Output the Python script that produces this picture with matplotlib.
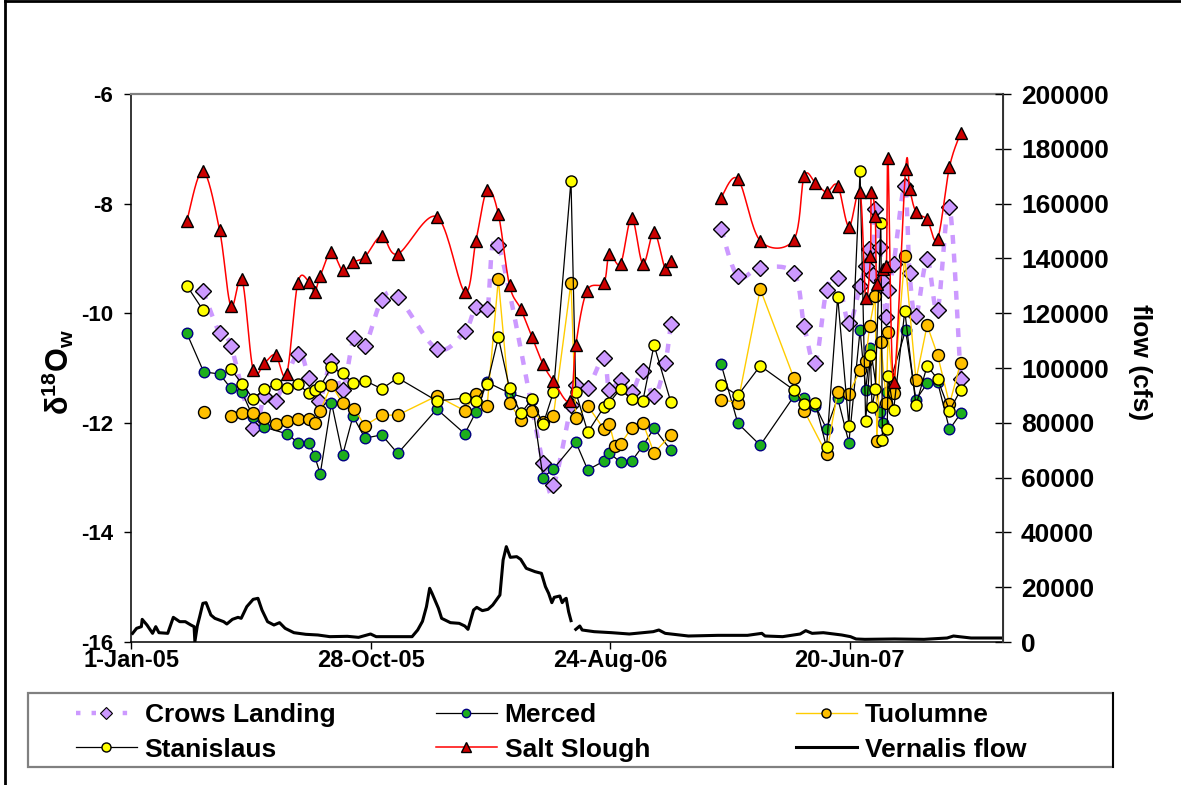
import numpy as np
import matplotlib
matplotlib.use("Agg")
import matplotlib.pyplot as plt
import matplotlib.dates as mdates
from matplotlib.lines import Line2D
from matplotlib.patches import Rectangle

plt.rcParams["font.family"] = ["Liberation Sans", "DejaVu Sans"]
plt.rcParams["font.weight"] = "bold"
plt.rcParams["mathtext.fontset"] = "custom"
plt.rcParams["mathtext.rm"] = "Liberation Sans:bold"
plt.rcParams["mathtext.it"] = "Liberation Sans:bold"
plt.rcParams["mathtext.bf"] = "Liberation Sans:bold"

START = np.datetime64("2005-01-01")
nan = np.nan

# sample dates are given as days after 1 Jan 2005, isotope values in per mil
crows_days = [90, 111, 125, 153, 167, 181, 209, 223, 236, 251, 265, 279, 293, 314, 334, 383, 418, 432,
              446, 460, 516, 529, 551, 557, 572, 592, 599, 613, 627, 641, 655, 669, 676, 700, 739, 760,
              788, 830, 843, 857, 871, 885, 899, 913, 920, 924, 929, 932, 938, 941, 946, 948, 955, 969,
              975, 983, 997, 1010, 1025, 1039]
crows_d18o = [-9.59, -10.37, -10.59, -12.09, -11.51, -11.60, -10.74, -11.19, -11.60, -10.87, -11.40,
              -10.46, -10.59, -9.76, -9.70, -10.65, -10.33, -9.88, -9.93, -8.76, -12.74, -13.14, -11.68,
              -11.31, -11.36, -10.81, -11.40, -11.22, -11.44, -11.05, -11.52, -10.91, -10.20, nan, -8.46,
              -9.33, -9.17, -9.27, -10.23, -10.90, -9.58, -9.36, -10.18, -9.50, -9.13, -8.83, -9.30, -8.10,
              -8.80, -9.39, -10.07, -9.58, -9.11, -7.68, -9.27, -10.05, -9.02, -9.94, -8.07, -11.20]

merced_days = [70, 91, 111, 125, 139, 153, 167, 195, 209, 223, 230, 237, 251, 265, 278, 293, 314, 334,
               383, 418, 432, 446, 474, 502, 516, 529, 557, 572, 592, 599, 613, 627, 641, 655, 676, 700,
               739, 760, 788, 830, 843, 857, 871, 885, 899, 913, 920, 926, 938, 942, 947, 970, 983, 997,
               1010, 1025, 1039]
merced_d18o = [-10.37, -11.07, -11.11, -11.37, -11.44, -11.90, -12.08, -12.20, -12.36, -12.36, -12.61,
               -12.93, -11.63, -12.59, -11.88, -12.28, -12.22, -12.56, -11.75, -12.20, -11.80, -11.26,
               -11.46, -11.58, -13.00, -12.84, -12.35, -12.86, -12.70, -12.55, -12.72, -12.70, -12.42,
               -12.10, -12.50, nan, -10.93, -12.01, -12.41, -11.52, -11.55, -11.69, -12.11, -11.55, -12.36,
               -10.31, -11.40, -10.64, -11.80, -12.00, -11.43, -10.31, -11.58, -11.28, -11.25, -12.12,
               -11.83]

tuol_days = [91, 110, 125, 139, 153, 167, 181, 195, 209, 223, 230, 237, 251, 265, 279, 293, 314, 334,
             383, 418, 432, 446, 460, 474, 488, 502, 516, 529, 551, 557, 572, 592, 599, 606, 613, 627,
             641, 655, 676, 700, 739, 760, 788, 830, 843, 871, 885, 899, 913, 920, 925, 932, 934, 939,
             946, 948, 955, 969, 983, 997, 1010, 1025, 1039]
tuol_d18o = [-11.81, nan, -11.87, -11.82, -11.82, -11.91, -12.03, -11.97, -11.93, -11.93, -12.01, -11.78,
             -11.31, -11.64, -11.74, -12.05, -11.86, -11.86, -11.51, -11.78, -11.47, -11.69, -9.38,
             -11.63, -11.95, -11.78, -11.98, -11.87, -9.44, -11.92, -11.69, -12.11, -12.02, -12.42,
             -12.39, -12.09, -12.00, -12.55, -12.22, nan, -11.58, -11.63, -9.56, -11.18, -11.78, -12.57,
             -11.44, -11.47, -11.04, -10.87, -10.23, -9.69, -12.34, -10.53, -11.63, -10.35, -11.46,
             -8.95, -11.22, -10.22, -10.76, -11.66, -10.90]

stan_days = [70, 90, 110, 125, 139, 153, 167, 181, 195, 209, 223, 230, 237, 251, 265, 278, 293, 314,
             334, 383, 418, 432, 446, 460, 474, 488, 502, 516, 529, 551, 557, 572, 592, 599, 613, 627,
             641, 655, 676, 700, 739, 760, 788, 830, 843, 857, 871, 885, 899, 913, 920, 926, 928, 932,
             939, 941, 947, 948, 955, 969, 983, 997, 1010, 1025, 1039]
stan_d18o = [-9.50, -9.94, nan, -11.02, -11.29, -11.56, -11.39, -11.30, -11.36, -11.30, -11.46, -11.40,
             -11.33, -10.99, -11.10, -11.27, -11.23, -11.38, -11.18, -11.60, -11.55, -11.60, -11.30,
             -10.44, -11.37, -11.83, -11.57, -12.03, -11.44, -7.58, -11.44, -12.17, -11.72, -11.63,
             -11.38, -11.57, -11.60, -10.58, -11.62, nan, -11.31, -11.50, -10.96, -11.40, -11.66, -11.64,
             -12.45, -9.70, -12.05, -7.41, -11.97, -10.76, -11.72, -11.39, -8.35, -12.31, -12.11,
             -11.15, -11.77, -9.96, -11.68, -10.96, -11.20, -11.78, -11.40]

salt_days = [70, 90, 111, 125, 139, 153, 167, 181, 195, 209, 223, 230, 237, 251, 265, 278, 293, 314,
             334, 383, 418, 432, 446, 460, 474, 488, 502, 516, 529, 550, 557, 571, 592, 599, 613, 627,
             641, 655, 669, 676, 700, 739, 760, 788, 830, 843, 857, 871, 885, 899, 913, 920, 926, 927,
             932, 934, 942, 946, 948, 955, 970, 975, 983, 997, 1010, 1025, 1039]
salt_d18o = [-8.31, -7.40, -8.49, -9.87, -9.38, -11.04, -10.91, -10.76, -11.11, -9.44, -9.43, -9.61,
             -9.32, -8.88, -9.22, -9.07, -8.97, -8.59, -8.92, -8.24, -9.61, -8.68, -7.75, -8.19, -9.49,
             -9.92, -10.43, -10.93, -11.24, -11.60, -10.58, -9.59, -9.45, -8.92, -9.10, -8.26, -9.10,
             -8.52, -9.19, -9.05, nan, -7.89, -7.55, -8.68, -8.66, -7.50, -7.62, -7.79, -7.67, -8.42,
             -7.79, -9.73, -8.95, -7.79, -8.23, -9.47, -9.19, -9.13, -7.17, -11.25, -7.37, -7.73, -8.15,
             -8.29, -8.65, -7.33, -6.71]

# San Joaquin River at Vernalis, cfs
flow_days = [2, 7, 13, 14, 20, 27, 31, 35, 46, 53, 61, 68, 75, 79, 80, 83, 86, 90, 94, 100, 105, 116,
             120, 127, 134, 138, 145, 153, 159, 164, 171, 179, 186, 193, 204, 219, 234, 249, 271, 285,
             300, 307, 330, 352, 359, 365, 370, 374, 377, 385, 389, 400, 411, 418, 422, 429, 433, 440,
             447, 453, 462, 466, 470, 475, 483, 488, 495, 506, 514, 519, 523, 527, 530, 537, 540, 543,
             545, 548, 551, 554, 557, 562, 565, 580, 602, 624, 654, 661, 669, 698, 735, 772, 790, 794,
             816, 838, 845, 853, 867, 890, 901, 908, 919, 956, 993, 1022, 1030, 1037, 1052, 1089]
flow_cfs = [3160, 4990, 5600, 8270, 6200, 3160, 5600, 3400, 3160, 9000, 7420, 7420, 6200, 5600, 120,
            5840, 9250, 14110, 14360, 9860, 8640, 7420, 6570, 8270, 9000, 8640, 12900, 15570, 15940,
            11680, 7420, 6200, 7060, 4990, 3400, 2800, 2560, 1950, 2070, 1700, 2920, 1950, 1950, 1950,
            4380, 7540, 12900, 19590, 17760, 12290, 8640, 7060, 6810, 5840, 4620, 11680, 12650, 11440,
            11920, 13500, 17150, 29930, 34800, 30900, 31150, 30170, 26890, 25670, 25060, 20200, 17760,
            14360, 16300, 16790, 14360, 15570, 15940, 11070, 7790, nan, 4620, 5840, 4380, 3770, 3400,
            2920, 3770, 4380, 3160, 2190, 2430, 2430, 3160, 2190, 1950, 2920, 4140, 3160, 3400, 2560,
            1950, 1100, 970, 1100, 970, 1460, 2190, 1950, 1460, 1460]

tick_days = [0, 300, 600, 900]
tick_labels = ["1-Jan-05", "28-Oct-05", "24-Aug-06", "20-Jun-07"]


def to_num(days):
    return mdates.date2num(START) + np.asarray(days, dtype=float)


def smooth(x, y, steps=20):
    """Catmull-Rom curve through the points, broken at NaN gaps (Excel 'smoothed line')."""
    x = np.asarray(x, float)
    y = np.asarray(y, float)
    idx = np.where(~np.isnan(y))[0]
    groups = np.split(idx, np.where(np.diff(idx) > 1)[0] + 1)
    xs, ys = [], []
    t = np.linspace(0, 1, steps, endpoint=False)[:, None]
    for g in groups:
        P = np.column_stack([x[g], y[g]])
        P = np.vstack([P[0], P, P[-1]])
        for i in range(1, len(P) - 2):
            p0, p1, p2, p3 = P[i - 1], P[i], P[i + 1], P[i + 2]
            seg = 0.5 * (2 * p1 + (p2 - p0) * t + (2 * p0 - 5 * p1 + 4 * p2 - p3) * t ** 2
                         + (3 * p1 - p0 - 3 * p2 + p3) * t ** 3)
            xs.extend(seg[:, 0])
            ys.extend(seg[:, 1])
        xs.extend([P[-1, 0], nan])
        ys.extend([P[-1, 1], nan])
    return np.array(xs), np.array(ys)


fig = plt.figure(figsize=(11.81, 7.85), dpi=100)
W, H = 1181.0, 785.0
ax = fig.add_axes([131 / W, 1 - 642 / H, (1003 - 131) / W, (642 - 94) / H])

# Crows Landing: dashed smoothed line + diamonds
cx, cy = smooth(crows_days, crows_d18o)
ax.plot(to_num(cx), cy, color="#CC99FF", lw=3.2, dashes=(2.0, 2.2), solid_capstyle="butt", zorder=2)
ax.plot(to_num(crows_days), crows_d18o, ls="none", marker="D", ms=7.8, mfc="#CC99FF", mec="black",
        mew=1.0, zorder=3)

ax.plot(to_num(merced_days), merced_d18o, color="black", lw=0.9, marker="o", ms=7.6,
        mfc="#1DAE1D", mec="#000080", mew=1.0, zorder=4)
ax.plot(to_num(tuol_days), tuol_d18o, color="#FFCC00", lw=1.0, marker="o", ms=8.6,
        mfc="#FFC000", mec="black", mew=1.0, zorder=5)
ax.plot(to_num(stan_days), stan_d18o, color="black", lw=0.9, marker="o", ms=8.0,
        mfc="#FFFF00", mec="black", mew=1.0, zorder=6)

# Salt Slough: smoothed red line + triangles
sx, sy = smooth(salt_days, salt_d18o)
ax.plot(to_num(sx), sy, color="#FF0000", lw=1.1, zorder=7)
ax.plot(to_num(salt_days), salt_d18o, ls="none", marker="^", ms=9, mfc="#CC0000", mec="black",
        mew=1.0, zorder=8)

ax.set_xlim(to_num(0), to_num(1092))
ax.set_ylim(-16, -6)
ax.set_yticks(np.arange(-16, -5, 2))
ax.set_yticklabels([str(v) for v in range(-16, -5, 2)])
ax.set_xticks(to_num(tick_days))
ax.set_xticklabels(tick_labels)
ax.tick_params(axis="y", direction="out", length=5, width=1.0, labelsize=16, pad=8)
ax.tick_params(axis="x", direction="out", length=5, width=1.0, labelsize=17, pad=0)
for s in ("left", "bottom"):
    ax.spines[s].set_linewidth(1.1)
ax.spines["top"].set_color("#808080")
ax.spines["top"].set_linewidth(1.6)

# flow on the secondary axis
ax2 = ax.twinx()
ax2.plot(to_num(flow_days), flow_cfs, color="black", lw=2.2)
ax2.set_ylim(0, 200000)
ax2.set_yticks(np.arange(0, 200001, 20000))
ax2.set_yticklabels([str(v) for v in range(0, 200001, 20000)])
ax2.tick_params(axis="y", direction="inout", length=12, width=1.0, labelsize=19, pad=7)
ax2.spines["right"].set_color("#333333")
ax2.spines["right"].set_linewidth(1.4)
ax2.spines["top"].set_visible(False)
ax2.spines["left"].set_visible(False)
ax2.spines["bottom"].set_visible(False)

fig.text(58 / W, 1 - 372 / H, r"$\mathrm{\delta^{18}O_w}$", rotation=90, fontsize=22,
         ha="center", va="center")
fig.text(1140 / W, 1 - 362 / H, "flow (cfs)", rotation=270, fontsize=19, fontweight="bold",
         ha="center", va="center")

# legend: frame plus three columns
fig.add_artist(Rectangle((28 / W, 1 - 767 / H), (1113 - 28) / W, (767 - 693) / H,
                         transform=fig.transFigure, fill=False, edgecolor="#808080", lw=1.6))
fig.add_artist(Line2D([1113 / W, 1113 / W], [1 - 767 / H, 1 - 693 / H], transform=fig.transFigure,
                      color="black", lw=1.4))

h_crows = Line2D([], [], color="#CC99FF", lw=3.2, dashes=(1.0, 2.5), marker="D", ms=6,
                 mfc="#CC99FF", mec="black", mew=0.8)
h_merced = Line2D([], [], color="black", lw=0.9, marker="o", ms=6, mfc="#1DAE1D", mec="#000080")
h_tuol = Line2D([], [], color="#FFCC00", lw=1.0, marker="o", ms=6.5, mfc="#FFC000", mec="black")
h_stan = Line2D([], [], color="black", lw=0.9, marker="o", ms=6.5, mfc="#FFFF00", mec="black")
h_salt = Line2D([], [], color="#FF0000", lw=1.1, marker="^", ms=6.5, mfc="#CC0000", mec="black")
h_flow = Line2D([], [], color="black", lw=2.2)

columns = [(76, [h_crows, h_stan], ["Crows Landing", "Stanislaus"]),
           (436, [h_merced, h_salt], ["Merced", "Salt Slough"]),
           (796, [h_tuol, h_flow], ["Tuolumne", "Vernalis flow"])]
for x0, handles, labels in columns:
    fig.legend(handles, labels, loc="upper left", bbox_to_anchor=(x0 / W, 1 - 703 / H),
               frameon=False, handlelength=2.3, handletextpad=0.3,
               labelspacing=0.4, borderpad=0, borderaxespad=0,
               prop={"weight": "bold", "size": 19})

# outer frame lines
fig.add_artist(Line2D([5 / W, 1], [1 - 1 / H, 1 - 1 / H], transform=fig.transFigure, color="black", lw=2))
fig.add_artist(Line2D([5 / W, 5 / W], [0, 1 - 1 / H], transform=fig.transFigure, color="black", lw=2))

fig.savefig("out.png", dpi=100)
